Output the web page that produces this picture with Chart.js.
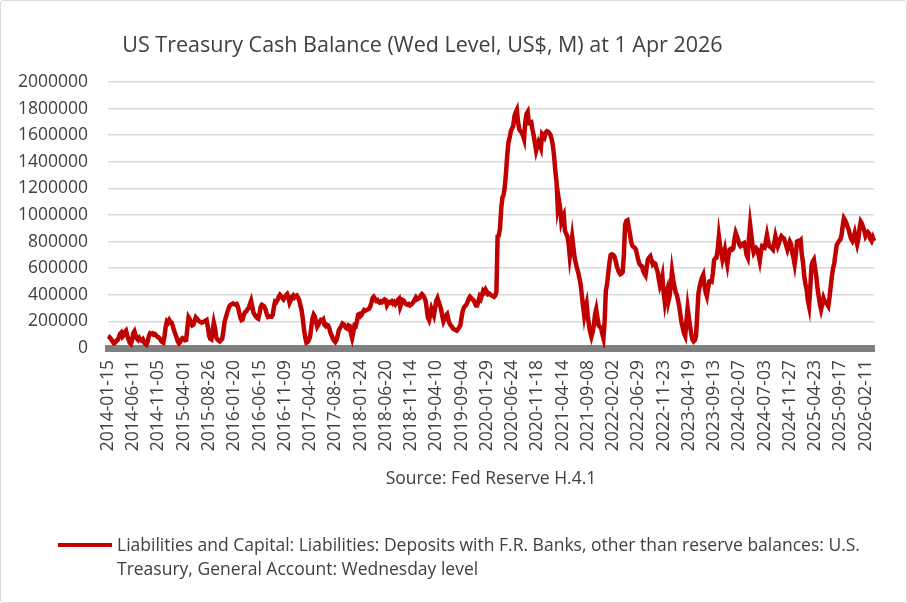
<!DOCTYPE html>
<html>
<head>
<meta charset="utf-8">
<title>US Treasury Cash Balance</title>
<script src="https://cdn.jsdelivr.net/npm/chart.js@4.4.1/dist/chart.umd.min.js"></script>
<style>
  html, body { margin: 0; padding: 0; background: #fff; }
  #wrap { position: relative; width: 907px; height: 603px; }
  #frame { position: absolute; left: 0; top: 0; width: 905px; height: 601px; border: 1px solid #d9d9d9; border-radius: 3px; pointer-events: none; }
  #title { position: absolute; left: 0; top: 31px; width: 845px; text-align: center; font-family: "Open Sans", sans-serif; font-size: 21.5px; line-height: 26px; color: #404040; white-space: nowrap; }
  #legend { position: absolute; left: 58px; top: 533px; display: flex; align-items: flex-start; font-family: "Open Sans", sans-serif; font-size: 17.5px; line-height: 23.5px; color: #404040; }
  #legend .swatch { width: 54px; height: 4px; margin-top: 10px; margin-right: 5px; flex: none; }
  #legend .text { width: 770px; }
</style>
</head>
<body>
<div id="wrap">
  <canvas id="tga" width="907" height="603"></canvas>
  <div id="title"></div>
  <div id="legend"></div>
  <div id="frame"></div>
</div>
<script>
// weekly Wednesday levels, US$ bn, converted to US$ M below
var tga2014 = [90,85,75,60,45,35,40,55,60,80,105,115,85,95,120,130,95,65,40,30,60,110,125,95,70,60,75,60,55,65,45,30,25,50,90,110,105,110,100,105,95,85,80,70,55,45,40,90,160,200,190];
var tga2015 = [210,195,190,160,130,105,80,50,35,45,65,75,70,58,60,150,230,215,185,170,175,205,230,220,210,200,195,190,195,200,205,210,160,95,70,65,130,190,150,80,65,55,50,60,70,130,200,230,260,290,315,325];
var tga2016 = [330,335,330,325,330,310,270,230,210,215,250,270,275,290,300,330,355,310,265,250,235,225,220,260,310,325,320,310,290,255,235,240,235,235,250,310,350,345,360,385,400,390,375,365,380,395,405,380,340,360,385,395];
var tga2017 = [380,390,395,380,360,320,285,220,140,80,40,45,60,85,150,220,250,235,200,160,175,195,210,205,215,175,165,175,170,150,115,95,70,55,45,60,95,135,150,165,185,180,165,150,145,170,165,110,75,120,170,165];
var tga2018 = [200,250,255,240,250,270,285,280,285,290,295,310,340,375,385,370,355,360,345,340,350,345,355,365,360,320,335,345,340,350,335,345,330,345,360,370,310,335,360,355,340,330,325,330,320,325,335,345,365,380,365,370];
var tga2019 = [375,395,405,395,380,360,300,230,210,250,295,270,245,300,355,375,345,320,290,240,200,220,245,255,215,185,170,160,145,140,135,130,140,155,170,230,280,305,315,325,345,370,385,375,365,360,340,320,320,350,385,370];
var tga2020 = [400,430,420,440,425,405,410,400,395,390,385,395,420,840,845,900,1050,1130,1150,1215,1320,1450,1545,1580,1630,1650,1670,1745,1770,1790,1700,1645,1630,1620,1600,1570,1700,1760,1775,1690,1690,1695,1640,1600,1540,1485,1520,1550,1530,1505,1610,1600,1585];
var tga2021 = [1620,1630,1625,1615,1600,1570,1520,1440,1330,1250,1060,1110,1050,950,980,1000,880,860,840,790,690,760,835,760,680,640,600,570,525,480,400,320,245,300,335,240,170,120,85,120,170,250,290,230,170,160,150,110,75,200,430,480];
var tga2022 = [560,640,700,705,700,690,660,620,590,570,555,560,570,700,925,955,960,910,860,800,770,760,755,740,700,660,630,620,615,580,560,545,610,665,680,690,660,630,640,635,600,575,520,470,500,540,420,345,410,440,350,390];
var tga2023 = [470,575,510,465,420,400,360,315,250,190,150,110,90,200,300,230,165,110,65,50,60,90,250,410,460,500,530,550,470,420,390,450,500,505,500,560,660,675,680,740,840,770,720,665,700,740,680,630,700,740,745,740];
var tga2024 = [750,820,865,840,815,780,765,770,785,790,760,700,680,820,925,850,770,715,730,750,740,700,655,720,765,760,755,800,850,800,765,760,750,740,790,840,800,765,790,820,840,830,825,800,770,740,770,800,780,720,680,630];
var tga2025 = [700,800,805,800,810,700,640,540,480,440,360,315,450,615,650,665,600,540,450,390,330,290,330,375,350,340,330,315,380,465,540,600,640,710,775,790,805,815,850,920,975,960,940,910,890,850,820,805,830,865,820,780,820];
var tga2026 = [900,950,935,905,880,840,855,870,860,820,805,830,805];

var seriesName = "Liabilities and Capital: Liabilities: Deposits with F.R. Banks, other than reserve balances: U.S. Treasury, General Account: Wednesday level";
var chartTitle = "US Treasury Cash Balance (Wed Level, US$, M) at 1 Apr 2026";
var sourceNote = "Source: Fed Reserve H.4.1";
var firstWeek = "2014-01-15";
var labelEvery = 21;   // one date label every 21 weeks
var yTicks = [0, 200000, 400000, 600000, 800000, 1000000, 1200000, 1400000, 1600000, 1800000, 2000000];

var tgaBn = [].concat(tga2014, tga2015, tga2016, tga2017, tga2018, tga2019, tga2020,
  tga2021, tga2022, tga2023, tga2024, tga2025, tga2026);
var tgaM = tgaBn.map(function (v) { return v * 1000; });

// week dates
var weekLabels = [];
var t0 = Date.parse(firstWeek + "T00:00:00Z");
for (var i = 0; i < tgaM.length; i++) {
  weekLabels.push(new Date(t0 + i * 7 * 86400000).toISOString().slice(0, 10));
}

var lineColor = "#c00000";
var textColor = "#404040";
var fontFamily = "'Open Sans', sans-serif";

var ctx = document.getElementById("tga").getContext("2d");
var chart = new Chart(ctx, {
  type: "line",
  data: {
    labels: weekLabels,
    datasets: [{
      label: seriesName,
      data: tgaM,
      borderColor: lineColor,
      backgroundColor: lineColor,
      borderWidth: 4.5,
      pointRadius: 0,
      tension: 0,
      fill: false
    }]
  },
  options: {
    responsive: false,
    animation: false,
    layout: { padding: { top: 82, left: 16, right: 27, bottom: 110 } },
    plugins: {
      legend: { display: false },
      tooltip: { enabled: false },
      title: { display: false }
    },
    scales: {
      x: {
        grid: { display: false, drawTicks: false },
        border: { display: true, color: "#808080", width: 7 },
        ticks: {
          autoSkip: false,
          minRotation: 90,
          maxRotation: 90,
          padding: 12,
          color: textColor,
          font: { family: fontFamily, size: 17.5 },
          callback: function (v, idx) {
            return idx % labelEvery === 0 ? this.getLabelForValue(v) : "";
          }
        },
        title: {
          display: true,
          text: sourceNote,
          color: textColor,
          font: { family: fontFamily, size: 17.5 },
          padding: { top: 4, bottom: 3 }
        },
        afterFit: function (s) { s.height = 145; }
      },
      y: {
        min: yTicks[0],
        max: yTicks[yTicks.length - 1],
        afterBuildTicks: function (s) { s.ticks = yTicks.map(function (v) { return { value: v }; }); },
        border: { display: false },
        grid: { color: "#d9d9d9", lineWidth: 1.5, drawTicks: false },
        ticks: {
          padding: 20,
          color: textColor,
          font: { family: fontFamily, size: 17.5 },
          callback: function (v) { return String(v); }
        },
        afterFit: function (s) { s.width = 92; }
      }
    }
  }
});

document.getElementById("title").textContent = chartTitle;

// legend below the chart, wrapped like the original
var ds = chart.data.datasets[0];
var legend = document.getElementById("legend");
var sw = document.createElement("span");
sw.className = "swatch";
sw.style.background = ds.borderColor;
var tx = document.createElement("div");
tx.className = "text";
tx.textContent = ds.label;
legend.appendChild(sw);
legend.appendChild(tx);
</script>
</body>
</html>
